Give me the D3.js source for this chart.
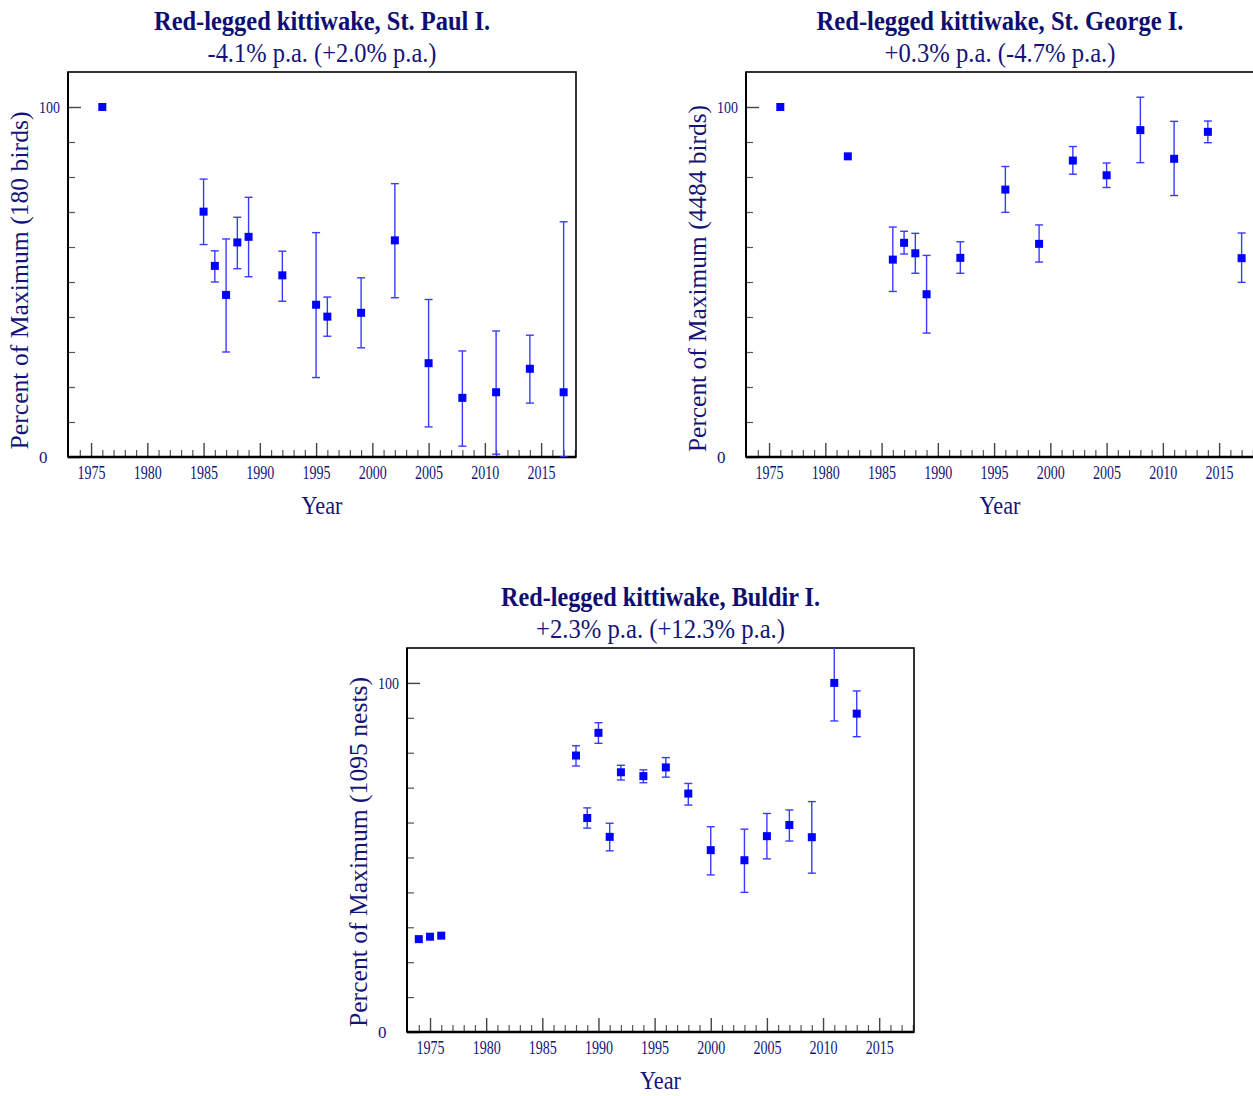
<!DOCTYPE html>
<html>
<head>
<meta charset="utf-8">
<script src="https://cdn.jsdelivr.net/npm/d3@7"></script>
<style>
  html, body { margin: 0; padding: 0; background: #fff; }
  svg { display: block; }
  text { font-family: "Liberation Serif", "Times New Roman", serif; fill: #141478; }
</style>
</head>
<body>
<svg id="chart" width="1253" height="1096"></svg>
<script>
// Colony counts, as percent of the colony's maximum count, with error ranges.
const stPaulYears = [1976, 1985, 1986, 1987, 1988, 1989, 1992, 1995, 1996, 1999, 2002, 2005, 2008, 2011, 2014, 2017];
const stPaulPct   = [100, 70.1, 54.6, 46.3, 61.3, 62.9, 51.9, 43.5, 40.1, 41.2, 61.9, 26.8, 16.9, 18.5, 25.2, 18.5];
const stPaulLow   = [null, 60.7, 50.0, 30.0, 53.8, 51.5, 44.5, 22.7, 34.5, 31.2, 45.5, 8.6, 3.1, 0.8, 15.4, 0];
const stPaulHigh  = [null, 79.4, 58.9, 62.3, 68.5, 74.2, 58.8, 64.1, 45.7, 51.2, 78.1, 45.0, 30.3, 36.0, 34.8, 67.2];

const stGeorgeYears = [1976, 1982, 1986, 1987, 1988, 1989, 1992, 1996, 1999, 2002, 2005, 2008, 2011, 2014, 2017];
const stGeorgePct   = [100, 85.9, 56.4, 61.2, 58.2, 46.5, 56.9, 76.4, 60.9, 84.7, 80.5, 93.4, 85.2, 92.9, 56.8];
const stGeorgeLow   = [null, null, 47.3, 58.0, 52.5, 35.4, 52.5, 69.9, 55.7, 80.8, 77.0, 84.1, 74.7, 89.8, 49.9];
const stGeorgeHigh  = [null, null, 65.7, 64.5, 63.9, 57.6, 61.5, 83.0, 66.3, 88.7, 84.0, 102.8, 95.9, 96.0, 64.0];

const buldirYears = [1974, 1975, 1976, 1988, 1989, 1990, 1991, 1992, 1994, 1996, 1998, 2000, 2003, 2005, 2007, 2009, 2011, 2013];
const buldirPct   = [26.6, 27.3, 27.6, 79.2, 61.3, 85.7, 55.9, 74.4, 73.3, 75.8, 68.3, 52.1, 49.2, 56.1, 59.3, 55.8, 100, 91.2];
const buldirLow   = [null, null, null, 76.2, 58.4, 82.7, 51.9, 72.2, 71.4, 73.0, 65.0, 45.0, 40.0, 49.6, 54.7, 45.5, 89.1, 84.6];
const buldirHigh  = [null, null, null, 82.0, 64.2, 88.6, 59.8, 76.4, 75.1, 78.6, 71.2, 58.8, 58.1, 62.6, 63.6, 66.0, 111.5, 97.7];

const panelTitles = ["Red-legged kittiwake, St. Paul I.", "Red-legged kittiwake, St. George I.", "Red-legged kittiwake, Buldir I."];
const panelTrends = ["-4.1% p.a. (+2.0% p.a.)", "+0.3% p.a. (-4.7% p.a.)", "+2.3% p.a. (+12.3% p.a.)"];
const panelYLabels = ["Percent of Maximum (180 birds)", "Percent of Maximum (4484 birds)", "Percent of Maximum (1095 nests)"];
const xAxisLabel = "Year";
const yTickLabels = ["0", "100"];
const xMajorTicks = [1975, 1980, 1985, 1990, 1995, 2000, 2005, 2010, 2015];

const svg = d3.select("#chart");

function zip(years, pct, low, high) {
  return years.map((yr, i) => ({ year: yr, pct: pct[i], low: low[i], high: high[i] }));
}

// Each panel: frame geometry and text widths (serif text is set narrow).
const panels = [
  { left: 68,  top: 72,  width: 508, height: 385, titleW: 336, trendW: 229, yLabW: 338, yLabShift: 16,
    rows: zip(stPaulYears, stPaulPct, stPaulLow, stPaulHigh) },
  { left: 746, top: 72,  width: 508, height: 385, titleW: 367, trendW: 231, yLabW: 347, yLabShift: 14,
    rows: zip(stGeorgeYears, stGeorgePct, stGeorgeLow, stGeorgeHigh) },
  { left: 407, top: 648, width: 507, height: 384, titleW: 319, trendW: 249, yLabW: 350, yLabShift: 12,
    rows: zip(buldirYears, buldirPct, buldirLow, buldirHigh) }
];

panels.forEach((p, idx) => {
  const bottom = p.top + p.height;
  const right = p.left + p.width;
  const cx = p.left + p.width / 2;

  const x = d3.scaleLinear().domain([1972.95, 2018.1]).range([p.left, right]);
  const y = d3.scaleLinear().domain([0, 110]).range([bottom, p.top]);

  const g = svg.append("g");

  const clipId = "clip" + idx;
  g.append("clipPath").attr("id", clipId)
    .append("rect").attr("x", p.left).attr("y", p.top).attr("width", p.width).attr("height", p.height);

  // Minor year ticks (inward)
  const allYears = d3.range(1974, 2019);
  g.append("g").attr("transform", `translate(0,${bottom})`)
    .call(d3.axisBottom(x).tickValues(allYears.filter(v => v % 5 !== 0)).tickSize(-7).tickFormat(""))
    .call(a => a.select(".domain").remove())
    .call(a => a.selectAll("line").attr("stroke", "#555").attr("stroke-width", 1.2));

  // Major year ticks with labels
  g.append("g").attr("transform", `translate(0,${bottom})`)
    .call(d3.axisBottom(x).tickValues(xMajorTicks).tickSize(-14).tickFormat(d3.format("d")))
    .call(a => a.select(".domain").remove())
    .call(a => a.selectAll("line").attr("stroke", "#444").attr("stroke-width", 1.4))
    .call(a => a.selectAll("text")
      .attr("y", 22).attr("dy", null)
      .attr("font-size", 19)
      .attr("textLength", 28).attr("lengthAdjust", "spacingAndGlyphs")
      .style("fill", "#141478")
      .style("font-family", "Liberation Serif, serif"));

  // Y ticks every 10, labels only at 0 and 100
  g.append("g").attr("transform", `translate(${p.left},0)`)
    .call(d3.axisLeft(y).tickValues(d3.range(10, 100, 10)).tickSize(-7).tickFormat(""))
    .call(a => a.select(".domain").remove())
    .call(a => a.selectAll("line").attr("stroke", "#555").attr("stroke-width", 1.2));
  g.append("g").attr("transform", `translate(${p.left},0)`)
    .call(d3.axisLeft(y).tickValues([0, 100]).tickSize(-13).tickFormat((d, i) => yTickLabels[i]))
    .call(a => a.select(".domain").remove())
    .call(a => a.selectAll("line").attr("stroke", "#444").attr("stroke-width", 1.4))
    .call(a => a.selectAll("text")
      .attr("x", -29).attr("dy", "0.34em")
      .attr("text-anchor", "start")
      .attr("font-size", 17)
      .each(function(d) { if (d === 100) d3.select(this).attr("textLength", 21).attr("lengthAdjust", "spacingAndGlyphs"); })
      .style("fill", "#141478")
      .style("font-family", "Liberation Serif, serif"));

  // Frame
  g.append("rect").attr("x", p.left).attr("y", p.top).attr("width", p.width).attr("height", p.height)
    .attr("fill", "none").attr("stroke", "#000").attr("stroke-width", 1.6);
  g.append("line").attr("x1", p.left).attr("x2", right).attr("y1", bottom).attr("y2", bottom)
    .attr("stroke", "#000").attr("stroke-width", 2.6);
  g.append("line").attr("x1", p.left).attr("x2", p.left).attr("y1", p.top).attr("y2", bottom)
    .attr("stroke", "#000").attr("stroke-width", 2);

  // Error bars
  const eb = g.append("g").attr("clip-path", `url(#${clipId})`)
    .selectAll("g").data(p.rows.filter(r => r.low !== null)).join("g")
    .attr("stroke", "#3a3aff").attr("stroke-width", 1.4).attr("fill", "none");
  eb.append("line")
    .attr("x1", d => x(d.year)).attr("x2", d => x(d.year))
    .attr("y1", d => y(d.low)).attr("y2", d => y(d.high));
  eb.append("line")
    .attr("x1", d => x(d.year) - 4).attr("x2", d => x(d.year) + 4)
    .attr("y1", d => y(d.low)).attr("y2", d => y(d.low));
  eb.append("line")
    .attr("x1", d => x(d.year) - 4).attr("x2", d => x(d.year) + 4)
    .attr("y1", d => y(d.high)).attr("y2", d => y(d.high));

  // Markers
  g.append("g").selectAll("rect").data(p.rows).join("rect")
    .attr("x", d => x(d.year) - 4).attr("y", d => y(d.pct) - 4)
    .attr("width", 8).attr("height", 8)
    .attr("fill", "#0000ff");

  // Titles
  g.append("text").attr("x", cx).attr("y", p.top - 42).attr("text-anchor", "middle")
    .attr("font-size", 28).attr("font-weight", "bold")
    .style("fill", "#0e0e70")
    .attr("textLength", p.titleW).attr("lengthAdjust", "spacingAndGlyphs")
    .text(panelTitles[idx]);
  g.append("text").attr("x", cx).attr("y", p.top - 10).attr("text-anchor", "middle")
    .attr("font-size", 28)
    .attr("textLength", p.trendW).attr("lengthAdjust", "spacingAndGlyphs")
    .text(panelTrends[idx]);

  // Axis titles
  g.append("text").attr("x", cx).attr("y", bottom + 57).attr("text-anchor", "middle")
    .attr("font-size", 26)
    .attr("textLength", 41).attr("lengthAdjust", "spacingAndGlyphs")
    .text(xAxisLabel);
  const ly = p.top + p.height / 2 + p.yLabShift;
  g.append("text")
    .attr("transform", `translate(${p.left - 40},${ly}) rotate(-90)`)
    .attr("text-anchor", "middle")
    .attr("font-size", 25)
    .attr("textLength", p.yLabW).attr("lengthAdjust", "spacingAndGlyphs")
    .text(panelYLabels[idx]);
});
</script>
</body>
</html>
